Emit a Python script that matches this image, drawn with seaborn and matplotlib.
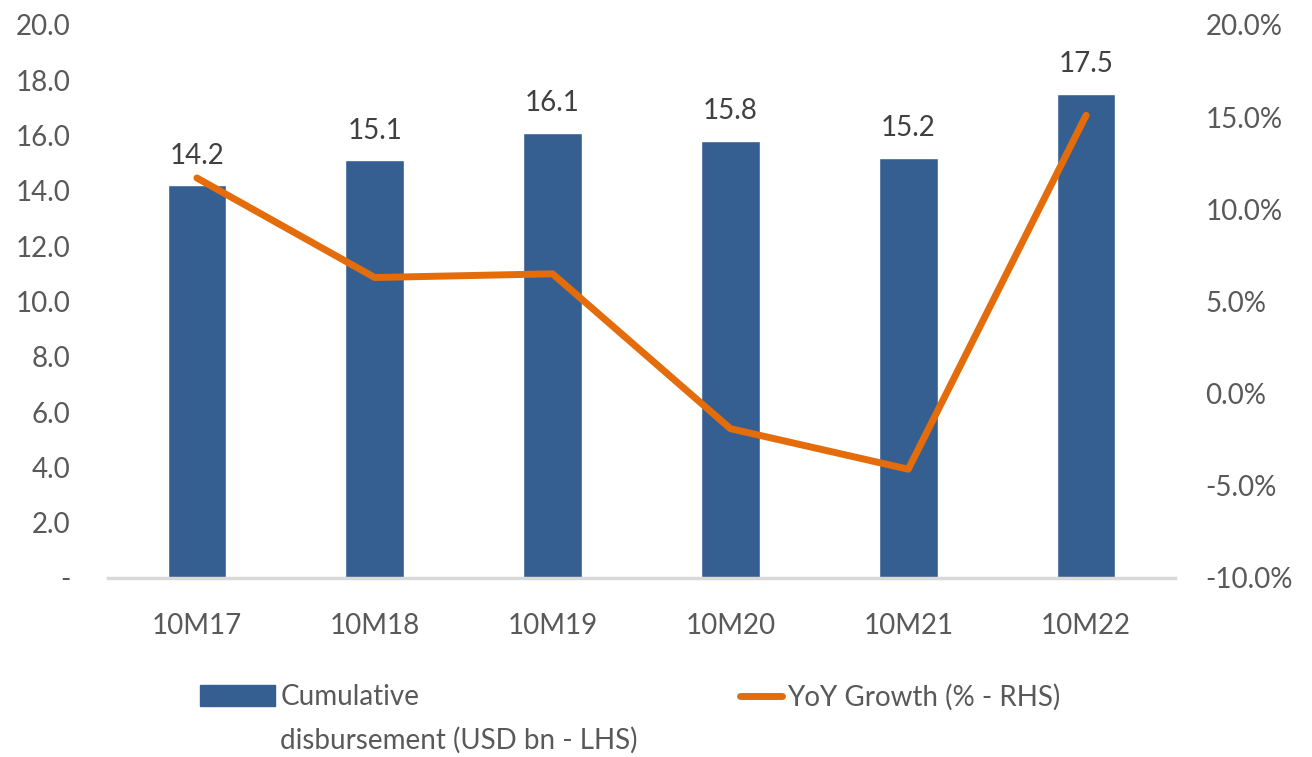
import matplotlib
matplotlib.use("Agg")
import matplotlib.pyplot as plt
import seaborn as sns
from matplotlib.ticker import FuncFormatter, MultipleLocator
from matplotlib.patches import Patch
from matplotlib.lines import Line2D

# data
periods = ["10M17", "10M18", "10M19", "10M20", "10M21", "10M22"]
disbursement = [14.2, 15.1, 16.1, 15.8, 15.2, 17.5]   # USD bn, LHS
yoy_growth = [11.7, 6.3, 6.5, -1.9, -4.1, 15.1]        # %, RHS

bar_color = "#365F91"
line_color = "#E46C0A"
text_color = "#595959"
fs = 20

sns.set_theme(style="white")
plt.rcParams["font.family"] = ["Lato", "DejaVu Sans"]

fig = plt.figure(figsize=(13.12, 7.57), dpi=100)
ax = fig.add_axes([0.0823, 0.2365, 0.8133, 0.7305])

sns.barplot(x=periods, y=disbursement, color=bar_color, width=0.33,
            saturation=1, ax=ax)
ax.bar_label(ax.containers[0], fmt="%.1f", padding=12, fontsize=fs, color="#404040")
ax.set_ylim(0, 20)
ax.set_xlim(-0.5, 5.5)
ax.yaxis.set_major_locator(MultipleLocator(2))
ax.yaxis.set_major_formatter(FuncFormatter(lambda v, p: "-" if abs(v) < 1e-9 else f"{v:.1f}"))
ax.tick_params(axis="y", length=0, pad=27, labelsize=fs, labelcolor=text_color)
ax.tick_params(axis="x", length=0, pad=25, labelsize=fs, labelcolor=text_color)
for s in ["top", "right", "left"]:
    ax.spines[s].set_visible(False)
ax.spines["bottom"].set_color("#D9D9D9")
ax.spines["bottom"].set_linewidth(2.5)
ax.set_xlabel("")
ax.set_ylabel("")
ax.grid(False)

ax2 = ax.twinx()
sns.lineplot(x=list(range(len(periods))), y=yoy_growth, color=line_color,
             linewidth=5, ax=ax2, legend=False)
ax2.set_ylim(-10, 20)
ax2.yaxis.set_major_locator(MultipleLocator(5))
ax2.yaxis.set_major_formatter(FuncFormatter(lambda v, p: f"{v:.1f}%"))
ax2.tick_params(axis="y", length=0, pad=22, labelsize=fs, labelcolor=text_color)
for s in ax2.spines.values():
    s.set_visible(False)
ax2.set_ylabel("")
ax2.grid(False)

# legend below the plot, first series label wraps onto a second line
fig.legend(handles=[Patch(facecolor=bar_color, edgecolor=bar_color)],
           labels=["Cumulative"], loc="center left",
           bbox_to_anchor=(0.1524, 0.0793), borderpad=0, borderaxespad=0,
           frameon=False, fontsize=fs, handlelength=2.7, handleheight=0.8,
           handletextpad=0.2, labelcolor=text_color)
fig.text(0.2134, 0.0225, "disbursement (USD bn - LHS)", fontsize=fs,
         color=text_color, va="center", ha="left")
fig.legend(handles=[Line2D([0], [0], color=line_color, linewidth=5)],
           labels=["YoY Growth (% - RHS)"], loc="center left",
           bbox_to_anchor=(0.564, 0.0793), borderpad=0, borderaxespad=0,
           frameon=False, fontsize=fs, handlelength=1.5,
           handletextpad=0.2, labelcolor=text_color)

fig.savefig("out.png", dpi=100)
